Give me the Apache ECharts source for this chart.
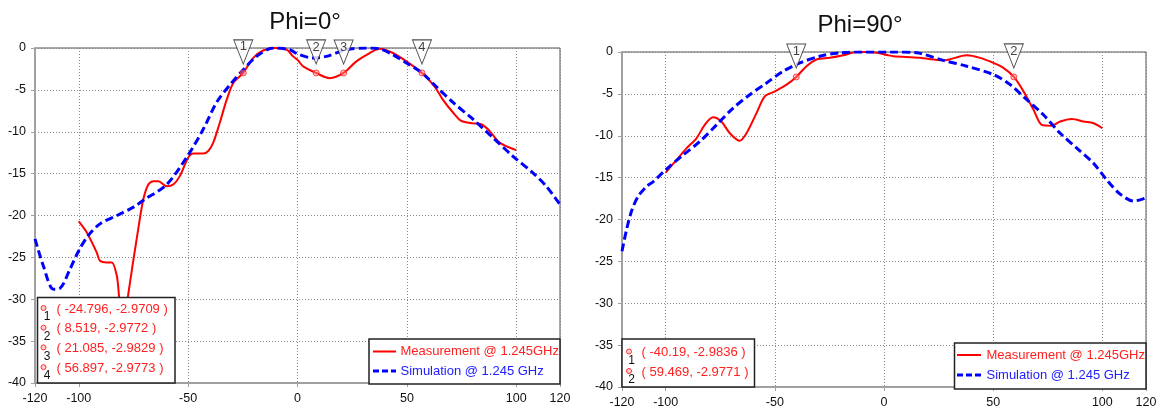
<!DOCTYPE html>
<html><head><meta charset="utf-8">
<script src="https://cdn.jsdelivr.net/npm/echarts@6/dist/echarts.min.js"></script>
<style>html,body{margin:0;padding:0;background:#fff}#c{width:1162px;height:411px}</style>
</head><body><div id="c"></div>
<script>
// ---- tick labels ----
const xTickValues = [-120, -100, -50, 0, 50, 100, 120];
const yMin = -40, yMax = 0, yStep = 5;

// ---- titles / legend names ----
const chartTitles = ['Phi=0°', 'Phi=90°'];
const measName = 'Measurement @ 1.245GHz';
const simName = 'Simulation @ 1.245 GHz';

// ---- Phi = 0° ----
const phi0MeasAngle = [-100,-96.4,-91.8,-90.3,-87.2,-84.9,-82.6,-81.6,-80.5,-79.5,-78.5,-77.6,-72.8,-70.5,-68.2,-65.9,-63.6,-59.8,-56.8,-53.8,-50,-47.7,-43.1,-40.8,-38.5,-35.5,-32.4,-29.4,-24.8,-20.3,-15.7,-10.4,-5,-2,0.3,2.6,8.5,14.7,21.1,26.9,33,37.6,43.6,49.8,56.9,62.7,66.5,71.1,74.9,80.2,84,87.8,92.4,100];
const phi0MeasGain  = [-20.7,-22.0,-24.4,-25.4,-25.6,-25.6,-27.2,-29.6,-32.5,-33.5,-32,-29.8,-21.6,-18.1,-16.3,-15.9,-15.9,-16.5,-16.3,-15.3,-13.1,-12.6,-12.6,-12.3,-11.3,-8.9,-6.2,-4.2,-2.97,-1.2,-0.3,0,-0.2,-1.0,-1.5,-2.2,-2.98,-3.6,-2.98,-1.6,-0.6,-0.1,-0.6,-1.6,-2.98,-4.6,-6.2,-7.7,-8.7,-9.0,-9.1,-9.9,-11.3,-12.2];
const phi0SimAngle = [-120,-116.2,-111.6,-108.6,-104,-100,-95.7,-90.3,-82.6,-75,-70,-59.8,-49.8,-43.1,-37,-30.9,-24.8,-18.7,-11.1,-3.5,0,7.1,13.2,22.4,31.5,37.6,43.6,49.8,56.6,63.4,71.1,80.2,89.3,98.4,107.6,113.7,120];
const phi0SimGain  = [-22.8,-26,-28.8,-28.7,-26.4,-24.2,-22.4,-21.0,-20.0,-19.0,-18.1,-16.3,-12.7,-9.7,-6.5,-4.4,-2.6,-1.0,0,-0.2,-0.7,-1.2,-1.0,-0.2,0,-0.1,-0.8,-1.8,-2.9,-4.6,-6.5,-8.5,-10.7,-12.9,-14.9,-16.5,-18.7];
const phi0MarkerAngle = [-24.796, 8.519, 21.085, 56.897];
const phi0MarkerGain  = [-2.9709, -2.9772, -2.9829, -2.9773];

// ---- Phi = 90° ----
const phi90MeasAngle = [-100,-95.1,-90.5,-85.9,-82.1,-78.3,-74.5,-70.6,-66.1,-63,-58.4,-54.6,-50,-44.6,-40.19,-35.5,-30.9,-24.8,-18.7,-12.5,-7.9,-3.3,2,4.3,16.5,27.2,37.9,44,50.1,54.7,59.47,63.9,68.5,72.3,76.9,80.7,86.1,91.4,96,100];
const phi90MeasGain  = [-14.4,-12.9,-11.5,-10.3,-8.7,-7.8,-8.3,-9.7,-10.6,-9.7,-7.3,-5.3,-4.7,-3.9,-2.98,-1.7,-0.9,-0.7,-0.4,0,0,-0.1,-0.4,-0.5,-0.7,-1.0,-0.4,-0.7,-1.3,-1.9,-2.98,-4.7,-6.9,-8.7,-8.8,-8.3,-8.0,-8.3,-8.5,-9.1];
const phi90SimAngle = [-120,-118,-115.5,-112.5,-108.5,-105.8,-100.1,-92,-84.4,-76.7,-69.1,-61.5,-53.8,-46.2,-38.5,-29.4,-20.2,-9.5,1.2,4.3,15,27.2,37.9,50.1,57.8,65.4,73,80.7,88.4,96,102.1,108.3,114.4,120];
const phi90SimGain  = [-23.8,-21.3,-18.9,-17.2,-16.0,-15.5,-14.1,-12.3,-10.7,-8.7,-6.7,-5.1,-3.7,-2.3,-1.3,-0.5,-0.1,0,0,0,-0.1,-1.0,-1.7,-2.7,-3.9,-5.7,-7.5,-9.7,-11.5,-13.3,-15.3,-17.0,-17.8,-17.4];
const phi90MarkerAngle = [-40.19, 59.469];
const phi90MarkerGain  = [-2.9836, -2.9771];

const zip = (a, b) => a.map((v, i) => [v, b[i]]);
const FONT = 'Liberation Sans';
const TOPZ = 100;

const grids = [
  {left: 35, top: 48, width: 525, height: 335},
  {left: 622, top: 52, width: 524, height: 335}
];

function xAxisFor(i) {
  return {
    type: 'value', gridIndex: i, min: -120, max: 120,
    axisLine: {show: true, onZero: false, lineStyle: {color: '#a0a0a0', width: 2}},
    axisTick: {show: true, length: 4, customValues: xTickValues, lineStyle: {color: '#a0a0a0'}},
    axisLabel: {customValues: xTickValues, margin: 9, fontSize: 12.5, color: '#111', fontFamily: FONT},
    splitLine: {show: true, lineStyle: {type: [1, 2], color: '#888', width: 1}}
  };
}
function yAxisFor(i) {
  return {
    type: 'value', gridIndex: i, min: yMin, max: yMax, interval: yStep,
    axisLine: {show: true, onZero: false, lineStyle: {color: '#a0a0a0', width: 2}},
    axisTick: {show: true, length: 4, lineStyle: {color: '#a0a0a0'}},
    axisLabel: {margin: 9, fontSize: 12.5, color: '#111', fontFamily: FONT},
    splitLine: {show: true, lineStyle: {type: [1, 2], color: '#888', width: 1}}
  };
}

function seriesFor(i, measA, measG, simA, simG, mkA, mkG) {
  return [
    {name: measName, type: 'line', xAxisIndex: i, yAxisIndex: i, data: zip(measA, measG),
     showSymbol: false, smooth: 0.3, lineStyle: {color: '#ff0000', width: 2}, itemStyle: {color: '#ff0000'}, z: 2, silent: true},
    {name: simName, type: 'line', xAxisIndex: i, yAxisIndex: i, data: zip(simA, simG),
     showSymbol: false, smooth: 0.3, lineStyle: {color: '#0000ff', width: 3, type: [8, 4]}, itemStyle: {color: '#0000ff'}, z: 3, silent: true},
    {type: 'scatter', xAxisIndex: i, yAxisIndex: i, data: zip(mkA, mkG), symbol: 'circle', symbolSize: 6,
     itemStyle: {color: 'rgba(255,140,140,0.6)', borderColor: '#ff2020', borderWidth: 1}, z: 5, silent: true},
    {type: 'scatter', xAxisIndex: i, yAxisIndex: i, data: zip(mkA, mkG), symbol: 'path://M0,0L20,0L10,25Z',
     symbolSize: [19, 24], symbolOffset: [0, -21], symbolKeepAspect: false,
     itemStyle: {color: '#ffffff', borderColor: '#222', borderWidth: 1}, z: 6, silent: true,
     label: {show: true, position: 'inside', offset: [0, -5], formatter: p => String(p.dataIndex + 1),
             fontSize: 13, color: '#111', fontFamily: FONT}}
  ];
}

function markerBox(x, y, w, h, angles, gains, rowStart, rowGap, numX, circX, textX) {
  const els = [{type: 'rect', z: TOPZ, shape: {x: x, y: y, width: w, height: h},
    style: {fill: '#fff', stroke: '#222', lineWidth: 1.5}}];
  angles.forEach((a, i) => {
    const cy = y + rowStart + i * rowGap;
    els.push({type: 'circle', z: TOPZ + 1, shape: {cx: x + circX, cy: cy - 1, r: 2.5}, style: {fill: 'rgba(255,160,160,0.5)', stroke: '#ff3030', lineWidth: 1}});
    els.push({type: 'text', z: TOPZ + 1, x: x + numX, y: cy + 8, style: {text: String(i + 1), fill: '#111', font: '12px ' + FONT, textAlign: 'center', textVerticalAlign: 'middle'}});
    els.push({type: 'text', z: TOPZ + 1, x: x + textX, y: cy, style: {text: '( ' + a + ', ' + gains[i] + ' )', fill: '#ff2020', font: '13px ' + FONT, textAlign: 'left', textVerticalAlign: 'middle'}});
  });
  return els;
}

function legendBox(x, y, w, h, row1, row2, lineX0, lineX1, textX) {
  return [
    {type: 'rect', z: TOPZ, shape: {x: x, y: y, width: w, height: h}, style: {fill: '#fff', stroke: '#222', lineWidth: 1.5}},
    {type: 'line', z: TOPZ + 1, shape: {x1: x + lineX0, y1: y + row1, x2: x + lineX1, y2: y + row1}, style: {stroke: '#ff0000', lineWidth: 2}},
    {type: 'text', z: TOPZ + 1, x: x + textX, y: y + row1, style: {text: measName, fill: '#ff2020', font: '13px ' + FONT, textVerticalAlign: 'middle'}},
    {type: 'line', z: TOPZ + 1, shape: {x1: x + lineX0, y1: y + row2, x2: x + lineX1, y2: y + row2}, style: {stroke: '#0000ff', lineWidth: 3, lineDash: [6, 3]}},
    {type: 'text', z: TOPZ + 1, x: x + textX, y: y + row2, style: {text: simName, fill: '#2020ff', font: '13px ' + FONT, textVerticalAlign: 'middle'}}
  ];
}

const chart = echarts.init(document.getElementById('c'), null, {renderer: 'canvas'});
chart.setOption({
  animation: false,
  backgroundColor: '#fff',
  grid: grids.map(g => Object.assign({show: true, borderColor: '#555', borderWidth: 1, backgroundColor: 'transparent'}, g)),
  xAxis: [xAxisFor(0), xAxisFor(1)],
  yAxis: [yAxisFor(0), yAxisFor(1)],
  series: [
    ...seriesFor(0, phi0MeasAngle, phi0MeasGain, phi0SimAngle, phi0SimGain, phi0MarkerAngle, phi0MarkerGain),
    ...seriesFor(1, phi90MeasAngle, phi90MeasGain, phi90SimAngle, phi90SimGain, phi90MarkerAngle, phi90MarkerGain)
  ],
  graphic: {
    zlevel: 1,
    elements: [
      {type: 'text', z: TOPZ, x: 305, y: 22, style: {text: chartTitles[0], fill: '#111', font: '24px ' + FONT, textAlign: 'center', textVerticalAlign: 'middle'}},
      {type: 'text', z: TOPZ, x: 860, y: 25, style: {text: chartTitles[1], fill: '#111', font: '24px ' + FONT, textAlign: 'center', textVerticalAlign: 'middle'}},
      ...markerBox(37.5, 297.5, 137.5, 85.5, phi0MarkerAngle, phi0MarkerGain, 11.5, 19.7, 9.5, 6, 19),
      ...markerBox(622, 339, 132.5, 48, phi90MarkerAngle, phi90MarkerGain, 13.5, 19.5, 9.5, 7, 19.5),
      ...legendBox(369, 339, 191, 45, 12.5, 32, 4, 27, 31.5),
      ...legendBox(954.5, 343, 191.5, 46, 12, 32, 2.5, 26.5, 32)
    ]
  }
});
</script></body></html>
